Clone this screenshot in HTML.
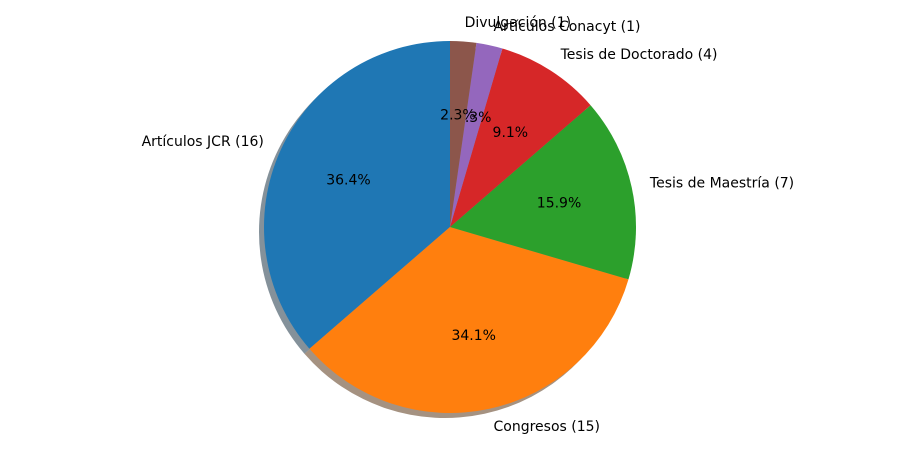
<!DOCTYPE html>
<html><head><meta charset="utf-8"><style>
body{margin:0;background:#fff;}
svg{display:block;font-family:"DejaVu Sans","Liberation Sans",sans-serif;}
</style></head><body>
<svg id="chart" width="900" height="450" viewBox="0 0 900 450"></svg>
<script>
const categories=["Artículos JCR","Congresos","Tesis de Maestría","Tesis de Doctorado","Artículos Conacyt","Divulgación"];
const values=[16,15,7,4,1,1];
const colors=["#1f77b4","#ff7f0e","#2ca02c","#d62728","#9467bd","#8c564b"];
const cx=450,cy=227,R=186;
const svg=document.getElementById('chart');
const NS='http://www.w3.org/2000/svg';
const total=values.reduce((a,b)=>a+b,0);
function pt(a,r,ox,oy){return [ox+r*Math.cos(a*Math.PI/180),oy-r*Math.sin(a*Math.PI/180)];}
function wedge(a0,a1,ox,oy){
  const p0=pt(a0,R,ox,oy),p1=pt(a1,R,ox,oy);
  const large=(a1-a0)>180?1:0;
  return `M${ox},${oy} L${p0[0]},${p0[1]} A${R},${R} 0 ${large} 0 ${p1[0]},${p1[1]} Z`;
}
function dark(h){const n=parseInt(h.slice(1),16);const r=(n>>16&255)*0.3,g=(n>>8&255)*0.3,b=(n&255)*0.3;return `rgb(${r|0},${g|0},${b|0})`;}
let a=90;
values.forEach((v,i)=>{
  const a1=a+v/total*360;
  const s=document.createElementNS(NS,'path');
  s.setAttribute('d',wedge(a,a1,cx-5,cy+5));
  s.setAttribute('fill',dark(colors[i]));s.setAttribute('fill-opacity','0.5');
  
  
  svg.appendChild(s);a=a1;
});
a=90;
values.forEach((v,i)=>{
  const a1=a+v/total*360, mid=(a+a1)/2;
  const p=document.createElementNS(NS,'path');
  p.setAttribute('d',wedge(a,a1,cx,cy));
  p.setAttribute('fill',colors[i]);
  
  
  svg.appendChild(p);
  const lp=pt(mid,R*1.1,cx,cy);
  const t=document.createElementNS(NS,'text');
  t.setAttribute('x',lp[0]);t.setAttribute('y',lp[1]);
  t.setAttribute('text-anchor',Math.cos(mid*Math.PI/180)<0?'end':'start');
  t.setAttribute('dominant-baseline','central');
  t.setAttribute('font-size','14');
  t.textContent=categories[i]+' ('+v+')';
  
  
  svg.appendChild(t);
  const pp=pt(mid,R*0.6,cx,cy);
  const q=document.createElementNS(NS,'text');
  q.setAttribute('x',pp[0]);q.setAttribute('y',pp[1]);
  q.setAttribute('text-anchor','middle');
  q.setAttribute('dominant-baseline','central');
  q.setAttribute('font-size','14');
  q.textContent=(v/total*100).toFixed(1)+'%';
  
  
  svg.appendChild(q);
  a=a1;
});
</script>
</body></html>
